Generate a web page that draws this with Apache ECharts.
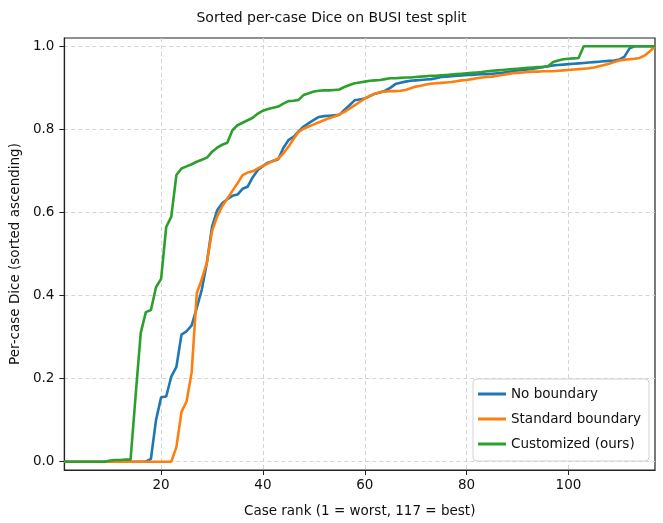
<!DOCTYPE html>
<html>
<head>
<meta charset="utf-8">
<script src="https://cdn.jsdelivr.net/npm/echarts@6/dist/echarts.min.js"></script>
<style>
html,body{margin:0;padding:0;background:#fff;}
#chart{width:663px;height:523px;}
</style>
</head>
<body>
<div id="chart"></div>
<script>
const titleText = 'Sorted per-case Dice on BUSI test split';
const xName = 'Case rank (1 = worst, 117 = best)';
const yName = 'Per-case Dice (sorted ascending)';
const seriesNames = ['No boundary', 'Standard boundary', 'Customized (ours)'];
const xTicks = [20, 40, 60, 80, 100];
const yTicks = [0, 0.2, 0.4, 0.6, 0.8, 1.0];

// per-case Dice, rank 1..117
const noBoundary = [
  0,0,0,0,0,0,0,0,0,0,
  0,0,0,0,0,0,0,0.007,0.1,0.155,
  0.157,0.205,0.228,0.306,0.314,0.328,0.37,0.415,0.48,0.565,
  0.605,0.622,0.632,0.64,0.643,0.657,0.662,0.685,0.702,0.712,
  0.72,0.724,0.728,0.755,0.774,0.782,0.795,0.807,0.815,0.823,
  0.83,0.832,0.833,0.834,0.835,0.847,0.858,0.87,0.872,0.874,
  0.88,0.886,0.889,0.893,0.9,0.909,0.912,0.915,0.917,0.918,
  0.919,0.92,0.921,0.923,0.926,0.927,0.928,0.929,0.93,0.931,
  0.931,0.932,0.933,0.933,0.934,0.935,0.936,0.938,0.94,0.942,
  0.943,0.944,0.946,0.948,0.95,0.952,0.954,0.955,0.956,0.957,
  0.958,0.959,0.96,0.961,0.962,0.963,0.964,0.965,0.966,0.968,
  0.975,0.995,1,1,1,1,1
];
const standardBoundary = [
  0,0,0,0,0,0,0,0,0,0,
  0,0,0,0,0,0,0,0,0,0,
  0,0,0.035,0.12,0.145,0.215,0.405,0.44,0.48,0.555,
  0.59,0.615,0.633,0.652,0.67,0.69,0.696,0.699,0.706,0.712,
  0.718,0.724,0.73,0.742,0.758,0.777,0.794,0.802,0.807,0.812,
  0.817,0.822,0.827,0.831,0.836,0.842,0.85,0.858,0.866,0.874,
  0.881,0.886,0.89,0.891,0.892,0.892,0.893,0.895,0.899,0.903,
  0.905,0.908,0.91,0.911,0.912,0.913,0.914,0.916,0.918,0.919,
  0.921,0.923,0.925,0.926,0.927,0.929,0.931,0.933,0.935,0.936,
  0.937,0.938,0.939,0.939,0.94,0.94,0.94,0.941,0.942,0.943,
  0.944,0.945,0.946,0.947,0.949,0.952,0.955,0.958,0.962,0.966,
  0.968,0.969,0.97,0.972,0.978,0.988,1.0
];
const customized = [
  0,0,0,0,0,0,0,0,0,0.003,
  0.004,0.004,0.005,0.005,0.16,0.31,0.36,0.365,0.42,0.44,
  0.565,0.59,0.69,0.706,0.711,0.716,0.722,0.727,0.732,0.746,
  0.756,0.763,0.768,0.798,0.81,0.816,0.822,0.828,0.838,0.845,
  0.849,0.852,0.855,0.862,0.868,0.869,0.871,0.883,0.887,0.891,
  0.893,0.894,0.894,0.895,0.896,0.902,0.907,0.911,0.913,0.915,
  0.917,0.918,0.919,0.921,0.923,0.923,0.924,0.925,0.925,0.926,
  0.927,0.928,0.929,0.929,0.93,0.931,0.932,0.933,0.934,0.935,
  0.936,0.937,0.938,0.94,0.941,0.942,0.943,0.944,0.945,0.946,
  0.947,0.948,0.949,0.95,0.95,0.952,0.962,0.966,0.969,0.97,
  0.971,0.972,1,1,1,1,1,1,1,1,
  1,1,1,1,1,1,1
];

const colors = ['#1f77b4', '#ff7f0e', '#2ca02c'];
const allValues = [noBoundary, standardBoundary, customized];
const FONT = 'DejaVu Sans';

const chart = echarts.init(document.getElementById('chart'), null, {renderer: 'canvas'});
chart.setOption({
  animation: false,
  backgroundColor: '#ffffff',
  textStyle: {fontFamily: FONT},
  title: {
    text: titleText, left: 'center', top: 6,
    textStyle: {fontFamily: FONT, fontSize: 14, fontWeight: 'normal', color: '#111'}
  },
  grid: {left: 63, right: 8, top: 38, bottom: 53, show: true, borderColor: '#222', borderWidth: 1.2, backgroundColor: 'transparent'},
  legend: {
    orient: 'vertical', left: 473, top: 379,
    data: seriesNames,
    icon: 'rect', itemWidth: 28, itemHeight: 3, itemGap: 11, itemTextGap: 12,
    padding: [8, 8, 10, 5],
    backgroundColor: 'rgba(255,255,255,0.85)', borderColor: '#d3d3d3', borderWidth: 1, borderRadius: 4,
    textStyle: {fontFamily: FONT, fontSize: 13.5, color: '#111'}
  },
  xAxis: {
    type: 'value', min: 1, max: 117,
    name: xName, nameLocation: 'middle', nameGap: 34,
    nameTextStyle: {fontFamily: FONT, fontSize: 13.5, color: '#111'},
    axisLine: {show: true, onZero: false, lineStyle: {color: '#222', width: 1.2}},
    axisTick: {show: true, length: 5, customValues: xTicks, lineStyle: {color: '#222'}},
    axisLabel: {customValues: xTicks, margin: 8, fontFamily: FONT, fontSize: 13.5, color: '#111'},
    splitLine: {show: true, lineStyle: {color: '#d4d4d4', type: [4, 3], width: 1}}
  },
  yAxis: {
    type: 'value', min: -0.02, max: 1.02,
    name: yName, nameLocation: 'middle', nameGap: 42,
    nameTextStyle: {fontFamily: FONT, fontSize: 13.5, color: '#111'},
    axisLine: {show: true, onZero: false, lineStyle: {color: '#222', width: 1.2}},
    axisTick: {show: true, length: 5, customValues: yTicks, lineStyle: {color: '#222'}},
    axisLabel: {customValues: yTicks, margin: 10, fontFamily: FONT, fontSize: 13.5, color: '#111',
      formatter: v => Number(v).toFixed(1)},
    splitLine: {show: true, lineStyle: {color: '#d4d4d4', type: [4, 3], width: 1}}
  },
  series: seriesNames.map((name, k) => ({
    name: name, type: 'line', showSymbol: false, symbol: 'none', clip: false,
    color: colors[k],
    lineStyle: {width: 2.6, color: colors[k]},
    data: allValues[k].map((v, i) => [i + 1, v])
  }))
});
</script>
</body>
</html>
